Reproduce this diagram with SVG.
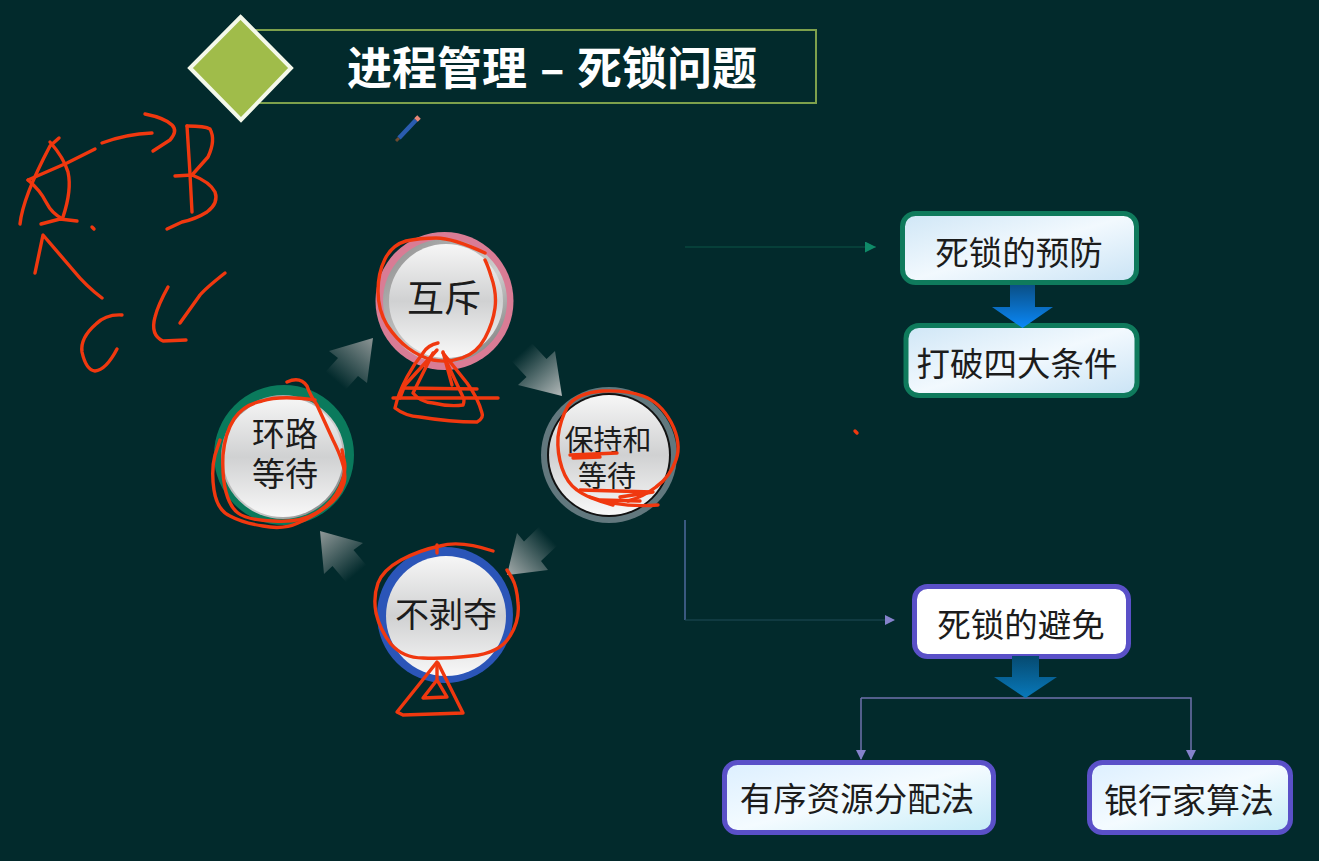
<svg xmlns="http://www.w3.org/2000/svg" width="1319" height="861" viewBox="0 0 1319 861">
<style>
text{font-family:"Noto Sans CJK SC","Liberation Sans",sans-serif;fill:#1c1c1c;text-anchor:middle}
.title{fill:#fff;font-weight:700;font-size:45px;text-anchor:start}
.c{font-size:33px}
.b{font-size:33.500px}
.ink{fill:none;stroke:#f0380f;stroke-width:3.400;stroke-linecap:round;stroke-linejoin:round}
.g{fill:url(#boxG);stroke:#0f7a5c;stroke-width:5}
.p{fill:url(#boxP);stroke:#5a50c8;stroke-width:5}
.disk{fill:url(#disk)}
.bez{fill:url(#bez)}
.ln{fill:none;stroke:#6f72ac;stroke-width:1.500}
</style>
<defs>
<linearGradient id="disk" x1="0" y1="0" x2="0" y2="1"><stop offset="0" stop-color="#f6f6f6"/><stop offset=".5" stop-color="#d0d1d2"/><stop offset="1" stop-color="#f8f8f8"/></linearGradient>
<linearGradient id="bez" x1="0" y1="0" x2="1" y2="1"><stop offset="0" stop-color="#8a8a8a"/><stop offset=".6" stop-color="#d0d0d0"/><stop offset="1" stop-color="#6a6a6a"/></linearGradient>
<linearGradient id="boxG" x1="0" y1="0" x2="1" y2="1"><stop offset="0" stop-color="#cfe6f6"/><stop offset=".5" stop-color="#f2f9fe"/><stop offset="1" stop-color="#c9e3f5"/></linearGradient>
<linearGradient id="boxP" x1="0" y1="0" x2="1" y2="1"><stop offset="0" stop-color="#dcefff"/><stop offset=".5" stop-color="#f4fbff"/><stop offset="1" stop-color="#c5ecf7"/></linearGradient>
<linearGradient id="bl1" x1="0" y1="0" x2="0" y2="1"><stop offset="0" stop-color="#0a4f86"/><stop offset="1" stop-color="#0a88f8"/></linearGradient>
<linearGradient id="bl2" x1="0" y1="0" x2="0" y2="1"><stop offset="0" stop-color="#064a70"/><stop offset="1" stop-color="#0879bb"/></linearGradient>
<linearGradient id="a1" gradientUnits="userSpaceOnUse" x1="373" y1="338" x2="336" y2="381"><stop offset="0" stop-color="#8c9595"/><stop offset="1" stop-color="#022a2c"/></linearGradient>
<linearGradient id="a2" gradientUnits="userSpaceOnUse" x1="562" y1="396" x2="522" y2="352"><stop offset="0" stop-color="#b4baba"/><stop offset="1" stop-color="#022a2c"/></linearGradient>
<linearGradient id="a3" gradientUnits="userSpaceOnUse" x1="507" y1="575" x2="548" y2="536"><stop offset="0" stop-color="#a4abab"/><stop offset="1" stop-color="#022a2c"/></linearGradient>
<linearGradient id="a4" gradientUnits="userSpaceOnUse" x1="320" y1="531" x2="356" y2="574"><stop offset="0" stop-color="#8f9898"/><stop offset="1" stop-color="#022a2c"/></linearGradient>
<marker id="mP" markerWidth="10" markerHeight="10" refX="9" refY="5" orient="auto" markerUnits="userSpaceOnUse"><path d="M0,0 L10,5 L0,10 Z" fill="#8582cc"/></marker>
<marker id="mG" markerWidth="12" markerHeight="11" refX="11" refY="5.500" orient="auto" markerUnits="userSpaceOnUse"><path d="M0,0 L11,5.500 L0,11 Z" fill="#0f8a68"/></marker>
</defs>
<rect width="1319" height="861" fill="#022a2c"/>

<g id="title">
<rect x="245" y="30" width="571" height="73" fill="none" stroke="#7da04c" stroke-width="2"/>
<polygon points="240.500,17 291,68 241,120 190,68" fill="#a0bc4a" stroke="#f4f8ea" stroke-width="4"/>
<text class="title" y="85"><tspan x="347">进程管理</tspan><tspan x="540">–</tspan><tspan x="577">死锁问题</tspan></text>
</g>
<g id="pencil">
<line x1="396" y1="141" x2="399" y2="138" stroke="#6b4a30" stroke-width="3"/>
<line x1="399" y1="138" x2="416" y2="120" stroke="#2a5cb0" stroke-width="4.500"/>
<line x1="416" y1="120" x2="419" y2="117" stroke="#e88878" stroke-width="5"/>
</g>

<g id="node-huchi">
<circle cx="444.500" cy="301" r="69" fill="#d97c95"/>
<circle cx="445" cy="301" r="62" class="bez"/>
<circle cx="446" cy="301" r="57" class="disk"/>
<text class="c" x="444" y="312" style="font-size:37px">互斥</text>
</g>
<g id="node-huanlu">
<circle cx="284" cy="455" r="70" fill="#0a7a5c"/>
<circle cx="283" cy="457" r="62" class="bez"/>
<circle cx="283" cy="457" r="60" class="disk"/>
<text class="c" text-anchor="middle"><tspan x="285" y="446">环路</tspan><tspan x="285" y="486">等待</tspan></text>
</g>
<g id="node-baochi">
<circle cx="609" cy="455" r="68" fill="#62787e"/>
<circle cx="609" cy="455" r="62" fill="#111"/>
<circle cx="609" cy="455" r="60" class="disk"/>
<text class="c" style="font-size:29px"><tspan x="608" y="451">保持和</tspan><tspan x="607" y="487">等待</tspan></text>
</g>
<g id="node-bubo">
<circle cx="445" cy="615" r="68" fill="#2b55b8"/>
<circle cx="446" cy="616" r="60" class="disk"/>
<text class="c" x="446" y="627" style="font-size:34px">不剥夺</text>
</g>

<g id="node-prevent"><rect x="902.500" y="213.500" width="234" height="69" rx="13" class="g"/><text class="b" x="1019" y="265">死锁的预防</text></g>
<g id="node-break"><rect x="906" y="325.500" width="231" height="70" rx="13" class="g"/><text class="b" x="1017" y="376">打破四大条件</text></g>
<g id="node-avoid"><rect x="914.500" y="586.500" width="214" height="70" rx="13" fill="#fff" stroke="#5a50c8" stroke-width="5"/><text class="b" x="1021" y="637">死锁的避免</text></g>
<g id="node-order"><rect x="724.500" y="762.500" width="269" height="70" rx="13" class="p"/><text class="b" x="857" y="811">有序资源分配法</text></g>
<g id="node-bank"><rect x="1089.500" y="762.500" width="201" height="70" rx="13" class="p"/><text class="b" x="1189" y="813" style="font-size:34px">银行家算法</text></g>

<g id="connectors">
<polygon points="329,351 373,338 367,383 358,376 340,396 320,378 338,358" fill="url(#a1)"/>
<polygon points="555,351 562,396 518,385 526.500,377 506,355 526,337 546.500,359" fill="url(#a2)"/>
<polygon points="517,533 507,575 548,570 541,561 561,542 544,522 524,541.500" fill="url(#a3)"/>
<polygon points="363,543 320,531 324,574 332.500,566 351,588 372,572 353.500,550" fill="url(#a4)"/>
<path d="M685,247 H876" fill="none" stroke="#0b5546" stroke-width="1.200" marker-end="url(#mG)"/>
<path d="M685,520 V620" fill="none" stroke="#4e6a9c" stroke-width="1.500"/>
<path d="M685,620 H894" fill="none" stroke="#1f4a56" stroke-width="1.200" marker-end="url(#mP)"/>
<path d="M861,698 V759" class="ln" marker-end="url(#mP)"/>
<path d="M861,698 H1191 V759" class="ln" marker-end="url(#mP)"/>
<polygon points="1010,285 1035,285 1035,307 1053,307 1022.500,328 992,307 1010,307" fill="url(#bl1)"/>
<polygon points="1012,656 1039,656 1039,677 1057,677 1025.500,698 994,677 1012,677" fill="url(#bl2)"/>
</g>

<g id="ink" class="ink">
<path d="M20,224 C22,205 32,180 50,146 L59,138"/>
<path d="M50,142 Q64,158 68,172 Q72,190 63,217"/>
<path d="M28,180 L67,163 L95,149"/>
<path d="M28,180 Q40,190 46,202 Q52,214 63,219"/>
<path d="M41,224 L60,219 L77,221"/>
<path d="M102,143 Q126,134 152,133"/>
<path d="M145,114 Q165,118 172,125 Q178,131 170,140 L153,151"/>
<path d="M187,126 Q190,170 192,212"/>
<path d="M187,126 Q205,126 210,129 Q216,140 208,157 L192,175"/>
<path d="M175,176 L192,175 Q210,182 215,192 Q219,203 207,212 Q196,219 182,222 L167,229"/>
<path d="M92,227 L94,229"/>
<path d="M102,298 Q86,286 73,270 L43,235 L35,273"/>
<path d="M122,315 Q106,314 96,324 Q80,338 82,352 Q86,370 95,371 Q106,370 117,349"/>
<path d="M225,273 Q206,288 200,295 L180,323"/>
<path d="M168,287 Q158,305 155,317 Q150,335 163,341 L186,340"/>
<path d="M855,431 L857,433"/>

<path d="M485,253 Q453,238 436,238 Q420,238 406,241 Q392,245 385,259 Q378,273 378,291 Q378,310 387,325 Q397,340 408,348 Q420,357 433,360 Q447,363 462,358 Q477,353 485,338 Q493,323 495,308 Q497,293 491,276 Q488,266 485,260"/>
<path d="M438,343 Q428,345 423,353 Q414,364 407,377 Q398,394 395,408 Q405,416 420,417 Q450,422 477,422 Q484,418 482,413 Q478,398 467,383 L443,353"/>
<path d="M433,353 L413,393 Q420,402 433,403 Q450,407 463,405 Q465,400 463,397 L447,363"/>
<path d="M437,350 L405,385 L400,398 M443,352 L452,385"/>
<path d="M393,398 L498,398"/>
<path d="M403,388 L477,389"/>

<path d="M287,382 Q300,376 307,386 Q310,395 317,405 L333,440 Q348,470 344,483 Q340,497 326,507 Q313,517 298,523 Q283,530 263,526 Q243,523 230,516 Q217,510 214,490 Q211,470 215,455 L220,440"/>
<path d="M315,400 Q280,395 262,401 Q243,405 234,419 Q225,433 223,455 Q222,477 226,492 Q230,507 238,513 Q247,520 273,521 Q300,523 316,513 Q333,503 340,487 Q347,470 344,460 L342,450"/>

<path d="M613,505 Q587,498 577,490 Q567,483 562,468 Q557,453 558,437 Q560,420 568,406 Q577,393 602,391 Q627,390 643,396 Q660,402 671,422 Q682,443 676,460 Q670,477 656,487 Q643,497 628,501"/>
<path d="M570,455 L617,453 M573,458 L600,457 M580,490 L653,492 L620,497 M590,497 Q620,508 658,505 M600,500 L640,501"/>

<path d="M493,551 Q460,540 440,546 Q420,550 401,560 Q383,570 378,583 Q373,597 376,613 Q380,630 391,644 Q403,658 423,658 Q443,659 471,656 Q500,653 510,636 Q520,620 518,603 Q517,587 512,578 L507,570"/>
<path d="M437,545 L437,553"/>
<path d="M437,662 L397,712 L403,715 L463,713 L460,707 L438,663"/>
<path d="M437,663 L437,680 L423,698 L447,697 L437,680"/>
</g>
</svg>
